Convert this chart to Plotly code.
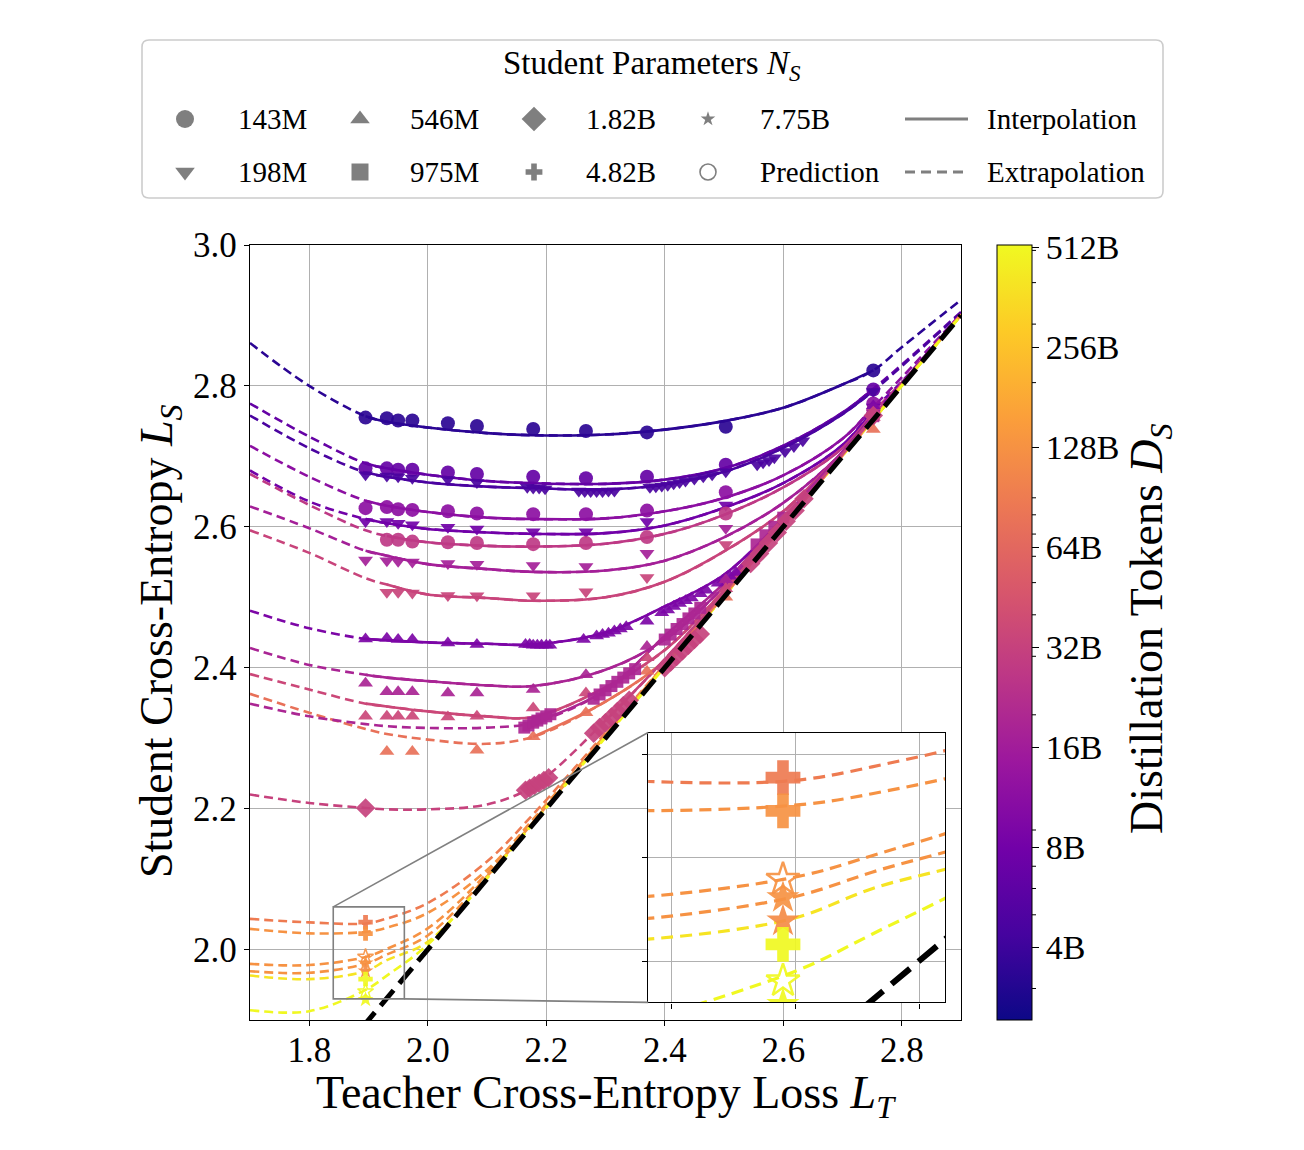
import math
import plotly.graph_objects as go
from plotly.colors import sample_colorscale

W, H = 1304, 1150
FONT = "Liberation Serif, Times New Roman, DejaVu Serif, serif"

# ---------------- axes / ticks ----------------
X_RANGE = [1.7, 2.9]
Y_RANGE = [1.9, 3.0]
X_TICKS = [1.8, 2.0, 2.2, 2.4, 2.6, 2.8]
Y_TICKS = [2.0, 2.2, 2.4, 2.6, 2.8, 3.0]

INSET_X_RANGE = [1.8405, 1.9605]
INSET_Y_RANGE = [1.930, 2.0606]
INSET_X_TICKS = [1.85, 1.90, 1.95]
INSET_Y_TICKS = [1.95, 2.00, 2.05]
INSET_POS_X = [2.372, 2.873]     # inset placement, main data coords
INSET_POS_Y = [1.925, 2.308]

D_MIN_LOG2 = 1.27
D_MAX_LOG2 = 9.02
CB_TICK_D = [4, 8, 16, 32, 64, 128, 256, 512]
CB_TICK_TEXT = ["4B", "8B", "16B", "32B", "64B", "128B", "256B", "512B"]
CB_MINOR_D = [3, 5, 6, 7, 9, 20, 30, 40, 50, 60, 70, 80, 90, 200, 300, 400, 500]

DIAG = [1.7, 2.9]

# ---------------- fitted curves (student loss at KNOT_X) ----------------
KNOT_X = [1.70, 1.80, 1.895, 1.931, 2.00, 2.10, 2.178, 2.30, 2.40, 2.50, 2.60, 2.70, 2.752, 2.80, 2.90]

A_y = [2.861, 2.800, 2.757, 2.749, 2.741, 2.733, 2.730, 2.731, 2.738, 2.750, 2.769, 2.802, 2.822, 2.855, 2.922]
B_y = [2.775, 2.728, 2.690, 2.683, 2.674, 2.665, 2.662, 2.661, 2.667, 2.683, 2.715, 2.762, 2.796, 2.830, 2.905]
C_y = [2.758, 2.7115, 2.677, 2.671, 2.663, 2.657, 2.655, 2.653, 2.660, 2.678, 2.712, 2.760, 2.793, 2.828, 2.904]
D_y = [2.715, 2.671, 2.637, 2.630, 2.621, 2.613, 2.611, 2.612, 2.622, 2.641, 2.673, 2.725, 2.770, 2.812, 2.902]
E_y = [2.680, 2.636, 2.611, 2.605, 2.597, 2.592, 2.590, 2.591, 2.602, 2.627, 2.662, 2.716, 2.766, 2.806, 2.901]
F_y = [2.675, 2.631, 2.595, 2.587, 2.578, 2.573, 2.572, 2.576, 2.590, 2.617, 2.656, 2.712, 2.763, 2.805, 2.901]
G_y = [2.629, 2.598, 2.566, 2.559, 2.547, 2.540, 2.536, 2.538, 2.552, 2.585, 2.634, 2.706, 2.760, 2.803, 2.901]
H_y = [2.595, 2.563, 2.527, 2.518, 2.504, 2.499, 2.495, 2.500, 2.522, 2.565, 2.622, 2.706, 2.755, 2.802, 2.901]
I_y = [2.481, 2.456, 2.441, 2.439, 2.436, 2.434, 2.433, 2.450, 2.487, 2.532, 2.612, 2.706, 2.758, 2.804, 2.902]
J_y = [2.428, 2.404, 2.390, 2.386, 2.381, 2.375, 2.374, 2.397, 2.440, 2.515, 2.610, 2.705, 2.756, 2.803, 2.902]
K_y = [2.391, 2.369, 2.349, 2.345, 2.338, 2.331, 2.330, 2.372, 2.425, 2.510, 2.606, 2.704, 2.755, 2.802, 2.901]
L_y = [2.363, 2.336, 2.313, 2.306, 2.298, 2.292, 2.302, 2.352, 2.410, 2.503, 2.603, 2.702, 2.753, 2.801, 2.901]
M_y = [2.349, 2.331, 2.320, 2.317, 2.3145, 2.315, 2.322, 2.368, 2.445, 2.520, 2.612, 2.706, 2.757, 2.803, 2.902]
N_y = [2.220, 2.208, 2.201, 2.199, 2.199, 2.206, 2.232, 2.325, 2.412, 2.507, 2.605, 2.703, 2.756, 2.802, 2.901]
P1_y = [2.0435, 2.0385, 2.037, 2.044, 2.066, 2.125, 2.192, 2.308, 2.405, 2.504, 2.603, 2.702, 2.753, 2.801, 2.901]
P2_y = [2.0293, 2.023, 2.025, 2.031, 2.052, 2.113, 2.185, 2.305, 2.404, 2.503, 2.602, 2.702, 2.752, 2.801, 2.901]
S1_y = [1.9797, 1.978, 1.9895, 2.001, 2.030, 2.108, 2.183, 2.304, 2.403, 2.503, 2.602, 2.702, 2.752, 2.801, 2.901]
S2_y = [1.9693, 1.967, 1.9799, 1.993, 2.020, 2.104, 2.181, 2.303, 2.403, 2.502, 2.602, 2.701, 2.752, 2.801, 2.900]
S3_y = [1.9631, 1.958, 1.9694, 1.985, 2.011, 2.102, 2.180, 2.302, 2.402, 2.502, 2.601, 2.701, 2.752, 2.800, 2.900]
S4_y = [1.9139, 1.9125, 1.9428, 1.963, 2.007, 2.101, 2.179, 2.301, 2.401, 2.501, 2.601, 2.701, 2.752, 2.800, 2.900]

# distillation tokens (B) of each curve, and its interpolation (solid) range
CURVE_Y = [A_y, B_y, C_y, D_y, E_y, F_y, G_y, H_y, I_y, J_y, K_y, L_y, M_y, N_y,
           P1_y, P2_y, S1_y, S2_y, S3_y, S4_y]
CURVE_D = [3.3, 6.7, 4.6, 11.5, 7.9, 27, 16.7, 33.6, 9.2, 18.4, 35.5, 75, 19, 32,
           90, 128, 128, 128, 400, 512]
SOLID_LO = [1.895, 1.895, 1.895, 1.895, 1.895, 1.931, 1.895, 1.931, 1.895, 1.895, 1.895, 2.178, 2.178, 2.30,
            None, None, None, None, None, None]
SOLID_HI = [2.752] * 14 + [None] * 6
LOW_CURVES = [14, 15, 16, 17, 18, 19]

# ---------------- measured points ----------------
T_LT = [1.895, 1.931, 1.950, 1.974, 2.034, 2.083, 2.178, 2.267, 2.370, 2.503, 2.752]

A_mk_y = [2.755, 2.754, 2.751, 2.751, 2.747, 2.743, 2.739, 2.736, 2.734, 2.742, 2.822]
B_mk_y = [2.683, 2.683, 2.681, 2.681, 2.677, 2.675, 2.671, 2.669, 2.671, 2.688, 2.795]
D_mk_y = [2.6265, 2.628, 2.625, 2.624, 2.622, 2.619, 2.618, 2.618, 2.623, 2.649, 2.775]
F_mk_x = [1.931, 1.950, 1.974, 2.034, 2.083, 2.178, 2.267, 2.370, 2.503, 2.752]
F_mk_y = [2.5816, 2.5816, 2.579, 2.578, 2.577, 2.5754, 2.577, 2.5854, 2.619, 2.765]

C_mk_x = [1.895, 1.931, 1.950, 1.974, 2.034, 2.083, 2.168, 2.178, 2.188, 2.198,
          2.255, 2.265, 2.275, 2.285, 2.295, 2.305, 2.315, 2.375, 2.385, 2.395, 2.405, 2.415, 2.425, 2.435,
          2.450, 2.465, 2.480, 2.503, 2.556, 2.566, 2.576, 2.585, 2.603, 2.618, 2.633, 2.752]
C_mk_y = [2.674, 2.672, 2.671, 2.669, 2.667, 2.663, 2.656, 2.655, 2.655, 2.654,
          2.651, 2.650, 2.650, 2.650, 2.650, 2.651, 2.651, 2.656, 2.657, 2.658, 2.659, 2.661, 2.663, 2.665,
          2.668, 2.671, 2.674, 2.678, 2.688, 2.691, 2.694, 2.698, 2.707, 2.714, 2.722, 2.792]
E_mk_y = [2.6075, 2.6075, 2.605, 2.603, 2.5995, 2.597, 2.593, 2.593, 2.6075, 2.631, 2.770]
G_mk_y = [2.553, 2.552, 2.551, 2.5502, 2.548, 2.547, 2.545, 2.5437, 2.5626, 2.598, 2.762]
H_mk_x = [1.931, 1.950, 1.974, 2.034, 2.083, 2.178, 2.267, 2.370, 2.503, 2.752]
H_mk_y = [2.507, 2.507, 2.506, 2.5025, 2.502, 2.502, 2.508, 2.528, 2.575, 2.752]

I_mk_x = [1.895, 1.931, 1.950, 1.974, 2.034, 2.083, 2.165, 2.172, 2.178, 2.185, 2.192, 2.200, 2.206,
          2.263, 2.285, 2.295, 2.305, 2.315, 2.325, 2.335, 2.370, 2.395, 2.405, 2.415, 2.425, 2.435, 2.445,
          2.460, 2.470, 2.490, 2.500, 2.510, 2.520, 2.752]
I_mk_y = [2.4407, 2.442, 2.440, 2.440, 2.435, 2.433, 2.433, 2.433, 2.432, 2.432, 2.432, 2.432, 2.432,
          2.440, 2.445, 2.447, 2.449, 2.452, 2.455, 2.458, 2.466, 2.478, 2.482, 2.487, 2.491, 2.495, 2.499,
          2.505, 2.510, 2.520, 2.525, 2.530, 2.535, 2.772]
J_mk_y = [2.378, 2.366, 2.366, 2.366, 2.364, 2.364, 2.369, 2.390, 2.430, 2.525, 2.762]
K_mk_y = [2.331, 2.331, 2.331, 2.331, 2.330, 2.331, 2.343, 2.364, 2.414, 2.512, 2.755]
L_mk_x = [1.931, 1.974, 2.083, 2.178, 2.267, 2.370, 2.503, 2.752]
L_mk_y = [2.281, 2.281, 2.283, 2.302, 2.336, 2.395, 2.500, 2.738]

M_mk_x = [2.163, 2.170, 2.178, 2.185, 2.192, 2.200, 2.207, 2.280, 2.290, 2.300, 2.310, 2.320, 2.330, 2.340,
          2.350, 2.400, 2.410, 2.420, 2.430, 2.440, 2.450, 2.460, 2.555, 2.570, 2.585, 2.600, 2.752]
M_mk_y = [2.315, 2.318, 2.322, 2.325, 2.328, 2.331, 2.334, 2.356, 2.362, 2.368, 2.374, 2.380, 2.386, 2.392,
          2.398, 2.440, 2.447, 2.455, 2.462, 2.470, 2.477, 2.485, 2.575, 2.588, 2.600, 2.613, 2.757]
N_mk_x = [1.895, 2.165, 2.172, 2.180, 2.188, 2.196, 2.204, 2.280, 2.290, 2.300, 2.310, 2.320, 2.330, 2.340,
          2.400, 2.410, 2.420, 2.430, 2.440, 2.450, 2.460, 2.545, 2.560, 2.575, 2.590, 2.605, 2.620, 2.635, 2.752]
N_mk_y = [2.201, 2.226, 2.229, 2.233, 2.236, 2.240, 2.244, 2.307, 2.315, 2.322, 2.330, 2.338, 2.346, 2.354,
          2.400, 2.408, 2.416, 2.424, 2.432, 2.440, 2.448, 2.548, 2.562, 2.577, 2.592, 2.608, 2.623, 2.640, 2.758]

LOW_X = [1.895]
P1_mk_y = [2.0388]
P2_mk_y = [2.0227]
S1_mk_y = [1.9895]   # prediction (open)
S2_mk_y = [1.9807]
S3_mk_y = [1.9694]
YP_mk_y = [1.9581]
S4o_mk_y = [1.9404]  # prediction (open)
S4_mk_y = [1.929]

# (x, y, symbol, D, size)
MARKER_SETS = [
    (T_LT, A_mk_y, "circle", 3.3, 14),
    (T_LT, B_mk_y, "circle", 6.7, 14),
    (C_mk_x, C_mk_y, "triangle-down", 4.6, 13),
    (T_LT, D_mk_y, "circle", 11.5, 14),
    (T_LT, E_mk_y, "triangle-down", 7.9, 13),
    (F_mk_x, F_mk_y, "circle", 27, 14),
    (T_LT, G_mk_y, "triangle-down", 16.7, 13),
    (H_mk_x, H_mk_y, "triangle-down", 33.6, 13),
    (I_mk_x, I_mk_y, "triangle-up", 9.2, 13),
    (T_LT, J_mk_y, "triangle-up", 18.4, 13),
    (T_LT, K_mk_y, "triangle-up", 35.5, 13),
    (L_mk_x, L_mk_y, "triangle-up", 75, 13),
    (M_mk_x, M_mk_y, "square", 19, 12),
    (N_mk_x, N_mk_y, "diamond", 32, 15),
]
LOW_MARKER_SETS = [
    (LOW_X, P1_mk_y, "cross", 90),
    (LOW_X, P2_mk_y, "cross", 128),
    (LOW_X, S1_mk_y, "star-open", 128),
    (LOW_X, S2_mk_y, "star", 128),
    (LOW_X, S3_mk_y, "star", 115),
    (LOW_X, YP_mk_y, "cross", 512),
    (LOW_X, S4o_mk_y, "star-open", 512),
    (LOW_X, S4_mk_y, "star", 512),
]

# ---------------- layout geometry (pixels) ----------------
MAIN_PX = (250, 245, 961, 1020)
CB_PX = (997, 245, 1032, 1020)


def px_x(p):
    return p / W


def px_y(p):
    return 1 - p / H


MX = [px_x(MAIN_PX[0]), px_x(MAIN_PX[2])]
MY = [px_y(MAIN_PX[3]), px_y(MAIN_PX[1])]


def main_paper_x(x):
    return MX[0] + (x - X_RANGE[0]) / (X_RANGE[1] - X_RANGE[0]) * (MX[1] - MX[0])


def main_paper_y(y):
    return MY[0] + (y - Y_RANGE[0]) / (Y_RANGE[1] - Y_RANGE[0]) * (MY[1] - MY[0])


IX = [main_paper_x(INSET_POS_X[0]), main_paper_x(INSET_POS_X[1])]
IY = [main_paper_y(INSET_POS_Y[0]), main_paper_y(INSET_POS_Y[1])]


def dcolor(d):
    t = (math.log2(d) - D_MIN_LOG2) / (D_MAX_LOG2 - D_MIN_LOG2)
    t = min(max(t, 0.0), 1.0)
    return sample_colorscale("Plasma", [t])[0]


fig = go.Figure()

# ---- main: curves
for ys, d, lo in zip(CURVE_Y, CURVE_D, SOLID_LO):
    fig.add_trace(go.Scatter(x=KNOT_X, y=ys, mode="lines", xaxis="x", yaxis="y",
                             line=dict(color=dcolor(d), width=2.6, dash="9px,5px", shape="spline"),
                             hoverinfo="skip", showlegend=False))
for ys, d, lo, hi in zip(CURVE_Y, CURVE_D, SOLID_LO, SOLID_HI):
    if lo is None:
        continue
    sx = [x for x in KNOT_X if lo - 1e-9 <= x <= hi + 1e-9]
    sy = [y for x, y in zip(KNOT_X, ys) if lo - 1e-9 <= x <= hi + 1e-9]
    fig.add_trace(go.Scatter(x=sx, y=sy, mode="lines", xaxis="x", yaxis="y",
                             line=dict(color=dcolor(d), width=2.6, shape="spline"),
                             hoverinfo="skip", showlegend=False))

# ---- main: markers
for xs, ys, sym, d, size in MARKER_SETS:
    fig.add_trace(go.Scatter(x=xs, y=ys, mode="markers", xaxis="x", yaxis="y",
                             marker=dict(symbol=sym, size=size, color=[math.log2(d)] * len(xs),
                                         coloraxis="coloraxis", line=dict(width=0), opacity=0.92),
                             hoverinfo="skip", showlegend=False))
for xs, ys, sym, d in LOW_MARKER_SETS:
    is_open = sym.endswith("open")
    fig.add_trace(go.Scatter(x=xs, y=ys, mode="markers", xaxis="x", yaxis="y",
                             marker=dict(symbol=sym, size=12, color=[math.log2(d)] * len(xs),
                                         coloraxis="coloraxis",
                                         line=dict(width=1.5 if is_open else 0), opacity=0.92),
                             hoverinfo="skip", showlegend=False))

fig.add_trace(go.Scatter(x=DIAG, y=DIAG, mode="lines", xaxis="x", yaxis="y",
                         line=dict(color="black", width=5, dash="20px,9px"),
                         hoverinfo="skip", showlegend=False))

# ---- inset
for i in LOW_CURVES:
    fig.add_trace(go.Scatter(x=KNOT_X, y=CURVE_Y[i], mode="lines", xaxis="x2", yaxis="y2",
                             line=dict(color=dcolor(CURVE_D[i]), width=3.2, dash="12px,7px", shape="spline"),
                             hoverinfo="skip", showlegend=False))
for xs, ys, sym, d in LOW_MARKER_SETS:
    is_open = sym.endswith("open")
    size = 29 if sym == "cross" else 25
    fig.add_trace(go.Scatter(x=xs, y=ys, mode="markers", xaxis="x2", yaxis="y2",
                             marker=dict(symbol=sym, size=size, color=[math.log2(d)] * len(xs),
                                         coloraxis="coloraxis",
                                         line=dict(width=2.5 if is_open else 0), opacity=0.92),
                             hoverinfo="skip", showlegend=False))
fig.add_trace(go.Scatter(x=DIAG, y=DIAG, mode="lines", xaxis="x2", yaxis="y2",
                         line=dict(color="black", width=6, dash="24px,11px"),
                         hoverinfo="skip", showlegend=False))

# ---- manual legend (pixel overlay axis x3/y3)
LEG_LABELS = ["143M", "546M", "1.82B", "7.75B", "198M", "975M", "4.82B", "Prediction"]
LEG_SYMBOLS = ["circle", "triangle-up", "diamond", "star", "triangle-down", "square", "cross", "circle-open"]
LEG_SIZES = [18, 17, 19, 11, 17, 17, 14, 16]
LEG_MX = [185, 360, 534, 708, 185, 360, 534, 708]
LEG_TX = [236, 408, 584, 758, 236, 408, 584, 758]
LEG_Y = [119, 119, 119, 119, 172, 172, 172, 172]
GRAY = "#7f7f7f"

for mx, my, sym, sz in zip(LEG_MX, LEG_Y, LEG_SYMBOLS, LEG_SIZES):
    fig.add_trace(go.Scatter(x=[mx], y=[my], mode="markers", xaxis="x3", yaxis="y3",
                             marker=dict(symbol=sym, size=sz, color=GRAY,
                                         line=dict(width=1.6 if sym.endswith("open") else 0, color=GRAY)),
                             hoverinfo="skip", showlegend=False))
fig.add_trace(go.Scatter(x=[905, 968], y=[119, 119], mode="lines", xaxis="x3", yaxis="y3",
                         line=dict(color=GRAY, width=3), hoverinfo="skip", showlegend=False))
fig.add_trace(go.Scatter(x=[905, 968], y=[172, 172], mode="lines", xaxis="x3", yaxis="y3",
                         line=dict(color=GRAY, width=3, dash="10px,6px"), hoverinfo="skip", showlegend=False))

annotations = []
for tx, ty, lab in zip(LEG_TX, LEG_Y, LEG_LABELS):
    annotations.append(dict(x=tx, y=ty, xref="x3", yref="y3", text=lab, showarrow=False,
                            xanchor="left", yanchor="middle", font=dict(family=FONT, size=29, color="black")))
annotations.append(dict(x=985, y=119, xref="x3", yref="y3", text="Interpolation", showarrow=False,
                        xanchor="left", yanchor="middle", font=dict(family=FONT, size=29, color="black")))
annotations.append(dict(x=985, y=172, xref="x3", yref="y3", text="Extrapolation", showarrow=False,
                        xanchor="left", yanchor="middle", font=dict(family=FONT, size=29, color="black")))
annotations.append(dict(x=652, y=65, xref="x3", yref="y3", text="Student Parameters <i>N<sub>S</sub></i>",
                        showarrow=False, xanchor="center", yanchor="middle",
                        font=dict(family=FONT, size=33, color="black")))
# axis titles
annotations.append(dict(x=606, y=1096, xref="x3", yref="y3", text="Teacher Cross-Entropy Loss <i>L<sub>T</sub></i>",
                        showarrow=False, xanchor="center", yanchor="middle",
                        font=dict(family=FONT, size=46, color="black")))
annotations.append(dict(x=160, y=641, xref="x3", yref="y3", text="Student Cross-Entropy <i>L<sub>S</sub></i>",
                        showarrow=False, xanchor="center", yanchor="middle", textangle=-90,
                        font=dict(family=FONT, size=46, color="black")))
annotations.append(dict(x=1150, y=629, xref="x3", yref="y3", text="Distillation Tokens <i>D<sub>S</sub></i>",
                        showarrow=False, xanchor="center", yanchor="middle", textangle=-90,
                        font=dict(family=FONT, size=46, color="black")))

# ---- shapes
shapes = []
# white background for the inset (drawn in the inset's own layer)
shapes.append(dict(type="rect", xref="x2", yref="y2", x0=INSET_X_RANGE[0], x1=INSET_X_RANGE[1],
                   y0=INSET_Y_RANGE[0], y1=INSET_Y_RANGE[1], fillcolor="white", line=dict(width=0),
                   layer="below"))
# zoom box + connectors
shapes.append(dict(type="rect", xref="x", yref="y", x0=INSET_X_RANGE[0], x1=INSET_X_RANGE[1],
                   y0=INSET_Y_RANGE[0], y1=INSET_Y_RANGE[1], line=dict(color="#808080", width=1.6),
                   layer="above"))
shapes.append(dict(type="line", xref="x", yref="y", x0=INSET_X_RANGE[0], y0=INSET_Y_RANGE[1],
                   x1=INSET_POS_X[0], y1=INSET_POS_Y[1], line=dict(color="#808080", width=1.6), layer="above"))
shapes.append(dict(type="line", xref="x", yref="y", x0=INSET_X_RANGE[1], y0=INSET_Y_RANGE[0],
                   x1=INSET_POS_X[0], y1=INSET_POS_Y[0], line=dict(color="#808080", width=1.6), layer="above"))
# legend frame (rounded), below the legend marks
x0, y0, x1, y1, r = 142, 40, 1163, 198, 7
path = (f"M {x0+r},{y0} L {x1-r},{y0} Q {x1},{y0} {x1},{y0+r} L {x1},{y1-r} Q {x1},{y1} {x1-r},{y1} "
        f"L {x0+r},{y1} Q {x0},{y1} {x0},{y1-r} L {x0},{y0+r} Q {x0},{y0} {x0+r},{y0} Z")
shapes.append(dict(type="path", xref="x3", yref="y3", path=path, line=dict(color="#cccccc", width=1.6),
                   fillcolor="rgba(0,0,0,0)", layer="below"))
# colorbar minor ticks
for v in CB_MINOR_D:
    py = CB_PX[3] - (math.log2(v) - D_MIN_LOG2) / (D_MAX_LOG2 - D_MIN_LOG2) * (CB_PX[3] - CB_PX[1])
    shapes.append(dict(type="line", xref="x3", yref="y3", x0=CB_PX[2], x1=CB_PX[2] + 4, y0=py, y1=py,
                       line=dict(color="black", width=1), layer="above"))

axis_common = dict(showgrid=True, gridcolor="#b0b0b0", gridwidth=1, zeroline=False, automargin=False,
                   showline=True, linecolor="black", linewidth=1.3, mirror=True,
                   ticks="outside", ticklen=5, tickwidth=1.2, tickcolor="black",
                   tickfont=dict(family=FONT, size=35, color="black"))
inset_common = {k: v for k, v in axis_common.items() if k != "tickfont"}

fig.update_layout(
    width=W, height=H, autosize=False,
    margin=dict(l=0, r=0, t=0, b=0, pad=0, autoexpand=False),
    paper_bgcolor="white", plot_bgcolor="rgba(0,0,0,0)",
    showlegend=False,
    xaxis=dict(domain=MX, range=X_RANGE, tickvals=X_TICKS, tickformat=".1f", anchor="y",
               ticklabelstandoff=-6, **axis_common),
    yaxis=dict(domain=MY, range=Y_RANGE, tickvals=Y_TICKS, tickformat=".1f", anchor="x", **axis_common),
    xaxis2=dict(domain=IX, range=INSET_X_RANGE, tickvals=INSET_X_TICKS, showticklabels=False, anchor="y2",
                **inset_common),
    yaxis2=dict(domain=IY, range=INSET_Y_RANGE, tickvals=INSET_Y_TICKS, showticklabels=False, anchor="x2",
                **inset_common),
    xaxis3=dict(domain=[0, 1], range=[0, W], visible=False, anchor="y3", automargin=False),
    yaxis3=dict(domain=[0, 1], range=[H, 0], visible=False, anchor="x3", automargin=False),
    coloraxis=dict(colorscale="Plasma", cmin=D_MIN_LOG2, cmax=D_MAX_LOG2,
                   colorbar=dict(x=px_x(CB_PX[0]), xanchor="left", y=px_y(CB_PX[3]), yanchor="bottom",
                                 len=CB_PX[3] - CB_PX[1], lenmode="pixels",
                                 thickness=CB_PX[2] - CB_PX[0], thicknessmode="pixels",
                                 xpad=0, ypad=0, outlinewidth=1, outlinecolor="black",
                                 tickvals=[math.log2(v) for v in CB_TICK_D], ticktext=CB_TICK_TEXT,
                                 ticks="outside", ticklen=7, tickwidth=1, tickcolor="black",
                                 tickfont=dict(family=FONT, size=34, color="black"))),
    annotations=annotations,
    shapes=shapes,
)

fig.write_html("out.html")
